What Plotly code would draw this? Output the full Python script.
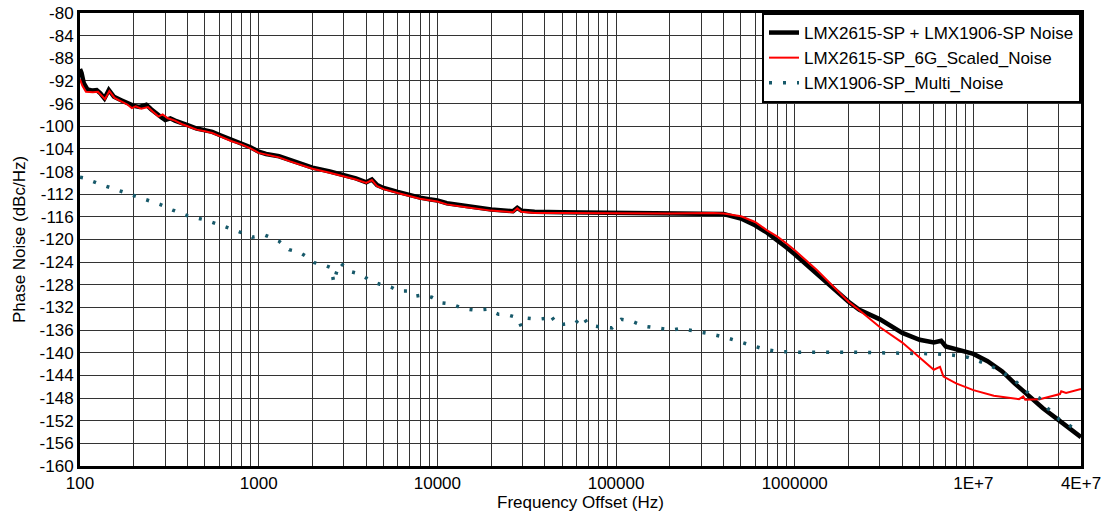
import plotly.graph_objects as go

# ---------------- data ----------------
combined_freq = [100, 102, 105, 110, 118, 124, 130, 137, 145, 155, 170, 185, 200, 215, 235, 250, 265, 285, 300, 320,
                 340, 370, 400, 450, 500, 550, 600, 650, 700, 800, 900, 1000, 1100, 1300, 1500, 1700, 2000, 2500,
                 3000, 3500, 4000, 4300, 4600, 5000, 6000, 7000, 8000, 9000, 10000, 11300, 14500, 20000, 26500,
                 28000, 29500, 35000, 50000, 100000, 200000, 350000, 400000, 500000, 600000, 700000, 800000,
                 900000, 1000000, 1330000, 2000000, 2300000, 3000000, 4000000, 5000000, 6000000, 6600000, 7000000,
                 8000000, 9000000, 10000000, 12000000, 14500000, 17000000, 20000000, 24500000, 30000000,
                 36000000, 40000000]
combined_db = [-89.9, -90.6, -92.4, -93.5, -93.7, -93.6, -94.2, -95.1, -93.6, -94.8, -95.4, -96.0, -96.4, -96.6,
               -96.2, -97.0, -97.7, -98.4, -98.9, -98.6, -99.0, -99.5, -99.8, -100.4, -100.7, -101.0, -101.5,
               -101.9, -102.4, -103.0, -103.7, -104.5, -104.9, -105.3, -106.0, -106.6, -107.3, -108.0, -108.6,
               -109.2, -109.9, -109.4, -110.4, -110.9, -111.6, -112.2, -112.6, -112.9, -113.1, -113.6, -114.1,
               -114.7, -115.0, -114.4, -114.9, -115.1, -115.2, -115.3, -115.3, -115.3, -115.5, -116.3, -117.5,
               -118.8, -120.1, -121.4, -122.6, -126.0, -131.0, -132.4, -134.1, -136.5, -137.7, -138.2, -137.9,
               -138.9, -139.4, -139.7, -140.2, -141.5, -143.3, -145.4, -147.4, -149.8, -151.9, -153.9, -154.9]

scaled_freq = [100, 103, 108, 118, 126, 132, 138, 146, 156, 170, 185, 195, 205, 220, 240, 255, 275, 290, 310,
               340, 370, 400, 450, 500, 550, 600, 650, 700, 800, 900, 1000, 1100, 1300, 1500, 1700, 2000, 2500,
               3000, 3500, 4000, 4300, 4600, 5000, 6000, 7000, 8000, 10000, 11300, 14500, 20000, 26500, 28000,
               29500, 35000, 50000, 100000, 200000, 350000, 400000, 500000, 600000, 700000, 800000, 900000,
               1000000, 1330000, 2000000, 2300000, 3000000, 4000000, 5000000, 6000000, 6500000, 6800000,
               8000000, 10000000, 13000000, 15800000, 18000000, 19000000, 19500000, 23500000, 27800000,
               30500000, 31000000, 33000000, 40000000]
scaled_db = [-91.7, -92.8, -93.9, -94.0, -93.9, -94.5, -95.2, -93.8, -95.0, -95.6, -96.2, -96.8, -96.5, -96.9,
             -96.6, -97.4, -98.3, -97.9, -98.6, -99.0, -99.6, -100.0, -100.6, -100.9, -101.2, -101.7, -102.2,
             -102.6, -103.2, -103.9, -104.7, -105.0, -105.5, -106.2, -106.8, -107.5, -108.2, -108.8, -109.4,
             -110.0, -109.5, -110.6, -111.1, -111.8, -112.4, -112.8, -113.3, -113.8, -114.3, -114.9, -115.2,
             -114.5, -115.1, -115.3, -115.3, -115.4, -115.4, -115.3, -115.4, -115.9, -116.9, -118.4, -119.5,
             -120.7, -121.9, -125.4, -131.0, -132.5, -135.5, -138.2, -140.9, -143.0, -142.5, -144.2, -145.4,
             -146.6, -147.6, -148.0, -148.2, -147.7, -148.3, -148.2, -147.7, -147.3, -146.8, -147.1, -146.4]

multi_freq = [100, 104, 126, 156, 190, 230, 280, 330, 400, 510, 620, 760, 920, 1080, 1300, 1480, 1680, 1850,
              2050, 2280, 2550, 2630, 2720, 2860, 3200, 3680, 4200, 4770, 5500, 6030, 6900, 7600, 8300, 9300,
              10600, 12000, 13900, 16500, 19000, 22000, 24000, 28000, 29500, 32000, 36700, 40800, 42600, 47000,
              53000, 59000, 65000, 70000, 80000, 95000, 107000, 122000, 143000, 174000, 206000, 230000, 282000,
              340000, 410000, 495000, 560000, 680000, 820000, 1070000, 2000000, 3560000, 5300000, 6300000,
              7600000, 9300000, 11200000, 13900000, 17000000, 20300000, 23400000, 25000000, 30300000,
              35500000, 38000000]
multi_db = [-109.0, -109.1, -110.1, -111.1, -111.9, -112.9, -113.8, -114.8, -115.8, -116.6, -117.5, -118.5,
            -119.6, -119.2, -120.3, -121.8, -122.2, -123.0, -124.1, -124.4, -125.0, -127.6, -125.9, -124.1,
            -125.6, -126.1, -127.2, -127.9, -128.4, -129.1, -129.1, -130.0, -129.8, -130.2, -131.2, -131.4,
            -132.2, -132.5, -132.3, -133.2, -133.2, -133.8, -135.4, -133.9, -134.1, -133.9, -133.2, -135.1,
            -134.9, -134.8, -133.5, -135.1, -135.4, -135.6, -134.1, -134.4, -135.3, -135.6, -136.0, -135.7,
            -136.2, -136.7, -137.3, -138.1, -138.7, -139.4, -139.8, -139.9, -139.9, -140.0, -140.1, -140.2,
            -140.4, -140.8, -141.7, -143.0, -144.9, -147.1, -148.0, -149.3, -151.8, -153.1, -153.9]

series_names = ["LMX2615-SP + LMX1906-SP Noise", "LMX2615-SP_6G_Scaled_Noise", "LMX1906-SP_Multi_Noise"]

# axis ticks
x_grid_vals = [m * 10 ** e for e in range(2, 8) for m in range(1, 10) if m * 10 ** e <= 4e7]
x_label_map = {100: "100", 1000: "1000", 10000: "10000", 100000: "100000", 1000000: "1000000",
               10000000: "1E+7", 40000000: "4E+7"}
y_tick_vals = list(range(-160, -79, 4))
y_tick_text = [str(v) for v in y_tick_vals]

# ---------------- figure ----------------
FONT = "Liberation Sans, Arial, sans-serif"
fig = go.Figure()
fig.add_trace(go.Scatter(x=combined_freq, y=combined_db, mode="lines", name=series_names[0],
                         line=dict(color="#000000", width=4.5)))
fig.add_trace(go.Scatter(x=scaled_freq, y=scaled_db, mode="lines", name=series_names[1],
                         line=dict(color="#ff0000", width=2)))
fig.add_trace(go.Scatter(x=multi_freq, y=multi_db, mode="lines", name=series_names[2],
                         line=dict(color="#17596a", width=3.5, dash="3px,11px")))

grid_color = "#333333"
fig.update_layout(
    width=1106, height=517,
    margin=dict(l=80, r=25, t=13, b=51, autoexpand=False),
    paper_bgcolor="white", plot_bgcolor="white",
    font=dict(family=FONT, size=17, color="#000"),
    showlegend=True,
    legend=dict(x=1, xanchor="right", y=1, yanchor="top", bgcolor="white",
                bordercolor="#000", borderwidth=2, font=dict(size=17, family=FONT),
                tracegroupgap=0, itemwidth=30),
    xaxis=dict(type="log", range=[2, 7.60206], tickvals=x_grid_vals,
               ticktext=[x_label_map.get(v, "") for v in x_grid_vals],
               showgrid=True, gridcolor=grid_color, gridwidth=1,
               showline=True, linecolor="#000", linewidth=3, mirror=True,
               ticks="", zeroline=False, automargin=False,
               title=dict(text="Frequency Offset (Hz)", font=dict(size=17), standoff=2),
               tickfont=dict(size=17)),
    yaxis=dict(range=[-160, -80], tickvals=y_tick_vals, ticktext=y_tick_text,
               showgrid=True, gridcolor=grid_color, gridwidth=1,
               showline=True, linecolor="#000", linewidth=3, mirror=True,
               ticks="", zeroline=False, automargin=False,
               title=dict(text="Phase Noise (dBc/Hz)", font=dict(size=17), standoff=10),
               tickfont=dict(size=17)),
)

fig.write_html("out.html", config={"displayModeBar": False},
               post_script="document.body.style.margin='0px';")
